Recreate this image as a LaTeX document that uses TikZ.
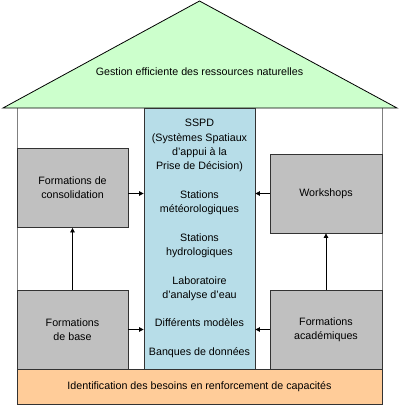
\documentclass[tikz,border=0pt]{standalone}
\usepackage{fontspec}
\setmainfont{Liberation Sans}
\usetikzlibrary{arrows.meta}
\definecolor{roofgreen}{HTML}{CCFFCC}
\definecolor{colblue}{HTML}{B7DDE8}
\definecolor{boxgray}{HTML}{C0C0C0}
\definecolor{basepeach}{HTML}{FFCC99}
\definecolor{wallgray}{HTML}{808080}
\tikzset{
  graybox/.style={draw=black!80, line width=0.8pt, fill=boxgray, inner sep=0pt,
    minimum width=111pt, minimum height=79pt, align=center, font=\fontsize{10.7}{14.3}\selectfont},
  arr/.style={line width=0.8pt, -{Triangle[length=4.5pt,width=4.5pt]}},
  txt/.style={font=\fontsize{10.7}{14.3}\selectfont, align=center}
}
\begin{document}
\begin{tikzpicture}[x=1pt,y=-1pt]
\useasboundingbox (0,0) rectangle (400,405);
% walls
\draw[wallgray, line width=0.8pt] (17,108) -- (17,369);
\draw[wallgray, line width=0.8pt] (382,108) -- (382,369);
% roof
\draw[line width=0.8pt, fill=roofgreen, line join=miter] (3,108) -- (199.5,1) -- (397,108) -- cycle;
\node[txt] (roof) at (199.5,72) {Gestion efficiente des ressources naturelles};
% central column
\node[draw=black!80, line width=0.8pt, fill=colblue, minimum width=111pt, minimum height=261pt, inner sep=0pt, txt]
  (col) at (199.5,238.5) {SSPD\\(Systèmes Spatiaux\\d'appui à la\\Prise de Décision)\\[14.3pt]
  Stations\\météorologiques\\[14.3pt]Stations\\hydrologiques\\[14.3pt]Laboratoire\\d'analyse d'eau\\[14.3pt]
  Différents modèles\\[14.3pt]Banques de données};
% side boxes
\node[graybox] (lt) at (72.5,188) {Formations de\\consolidation};
\node[graybox] (lb) at (72.5,329.5) {Formations\\de base};
\node[graybox, minimum width=112pt] (ws) at (326,193.5) {Workshops};
\node[graybox, minimum width=112pt] (rb) at (326,329.5) {Formations\\académiques};
% base
\node[draw=black!80, line width=0.8pt, fill=basepeach, minimum width=365pt, minimum height=35pt, inner sep=0pt, txt]
  (base) at (199.5,386.5) {Identification des besoins en renforcement de capacités};
% arrows
\draw[arr] (lt.east |- ws.west) -- (col.west |- ws.west);
\draw[arr] (ws.west) -- (col.east |- ws.west);
\draw[arr] (lb.east) -- (col.west |- lb.east);
\draw[arr] (rb.west) -- (col.east |- rb.west);
\draw[arr] (lb.north) -- (lt.south);
\draw[arr] (rb.north) -- (ws.south);
\end{tikzpicture}
\end{document}
